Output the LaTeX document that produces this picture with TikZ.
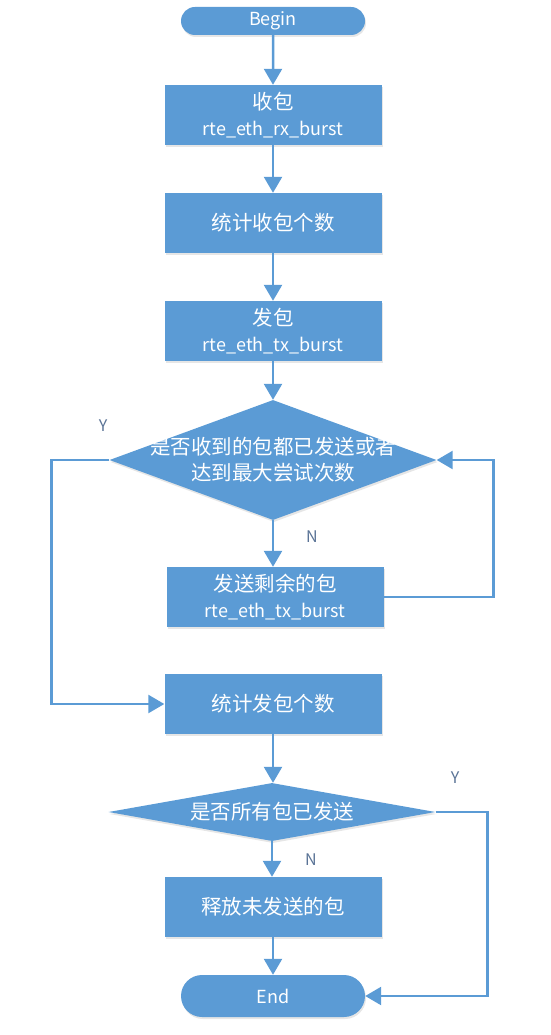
\documentclass[tikz,border=0pt]{standalone}
\usepackage{fontspec}
\setmainfont{Noto Sans CJK SC}
\usetikzlibrary{positioning,shapes.geometric,shapes.misc,arrows.meta,shadows}
\definecolor{flowblue}{HTML}{5B9BD5}
\definecolor{labelgray}{RGB}{90,115,150}
\newcommand{\fn}[1]{{\fontsize{18}{25}\selectfont #1}}

\begin{document}
\begin{tikzpicture}[x=1pt, y=-1pt, font=\fontsize{20.5}{26}\selectfont]
    % Define styles
    \tikzstyle{term}=[rounded rectangle, fill=flowblue, text=white, minimum width=184pt, inner sep=0pt, drop shadow={shadow xshift=1pt, shadow yshift=-2pt, opacity=0.2}]
    \tikzstyle{process}=[rectangle, fill=flowblue, text=white, minimum width=217pt, minimum height=60pt, align=center, drop shadow={shadow xshift=1pt, shadow yshift=-2pt, opacity=0.2}]
    \tikzstyle{decision}=[diamond, fill=flowblue, inner sep=0pt, minimum width=327pt, drop shadow={shadow xshift=1pt, shadow yshift=-2pt, opacity=0.2}]
    \tikzstyle{dtext}=[text=white, align=center]
    \tikzstyle{arrow}=[-{Triangle[width=18pt,length=16pt]}, line width=2.5pt, draw=flowblue]
    \tikzstyle{yn}=[text=labelgray, font=\fontsize{16}{18}\selectfont]

    \useasboundingbox (0,0) rectangle (550,1035);

    % Nodes
    \node[term, minimum height=28pt] (begin) at (273,21) {\fn{Begin}};
    \node[process] (recv) at (273,115) {收包\\\fn{rte\_eth\_rx\_burst}};
    \node[process] (countrx) at (273,223) {统计收包个数};
    \node[process] (send) at (273,331) {发包\\\fn{rte\_eth\_tx\_burst}};
    \node[decision, minimum height=120pt] (done) at (273,460) {};
    \node[dtext] (donetxt) at (done) {是否收到的包都已发送或者\\达到最大尝试次数};
    \node[process] (resend) at (275,597) {发送剩余的包\\\fn{rte\_eth\_tx\_burst}};
    \node[process] (counttx) at (273,704) {统计发包个数};
    \node[decision, minimum height=58pt] (allsent) at (272,812) {};
    \node[dtext] (allsenttxt) at (allsent) {是否所有包已发送};
    \node[process] (free) at (273,907) {释放未发送的包};
    \node[term, minimum height=42pt] (end) at (273,996) {\fn{End}};

    % Labels
    \node[yn] (y1) at (103,426) {Y};
    \node[yn] (n1) at (312,537) {N};
    \node[yn] (y2) at (455,778) {Y};
    \node[yn] (n2) at (311,860) {N};

    % Connections
    \draw[arrow] (begin) -- (recv);
    \draw[arrow] (recv) -- (countrx);
    \draw[arrow] (countrx) -- (send);
    \draw[arrow] (send) -- (done);
    \draw[arrow] (done.south) -- (done.south |- resend.north);
    \draw[arrow] (resend.east) -- ++(110,0) |- (done.east);
    \draw[arrow] (done.west) -- ++(-58,0) |- (counttx.west);
    \draw[arrow] (counttx) -- (counttx |- allsent.north);
    \draw[arrow] (allsent.south) -- (allsent.south |- free.north);
    \draw[arrow] (allsent.east) -- ++(52,0) |- (end.east);
    \draw[arrow] (free) -- (end);
\end{tikzpicture}
\end{document}
